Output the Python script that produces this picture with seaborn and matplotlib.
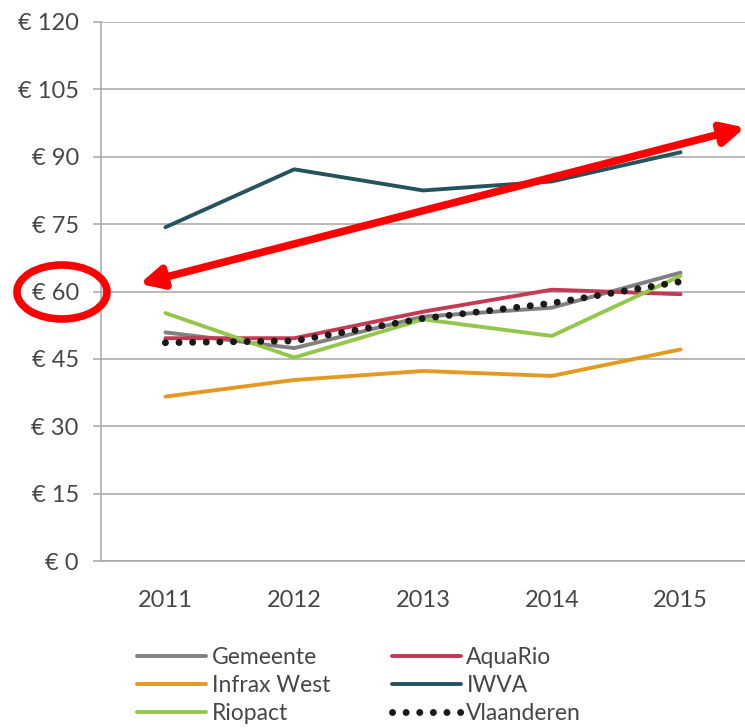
import matplotlib
matplotlib.use("Agg")
import matplotlib.pyplot as plt
from matplotlib.patches import Ellipse
import seaborn as sns
import pandas as pd
import numpy as np

# %% data
years = ["2011", "2012", "2013", "2014", "2015"]
gemeente = [50.9, 47.4, 54.4, 56.4, 64.2]
aquario = [49.6, 49.6, 55.5, 60.4, 59.4]
infrax_west = [36.6, 40.3, 42.3, 41.2, 47.1]
iwva = [74.3, 87.2, 82.5, 84.5, 91.0]
riopact = [55.2, 45.3, 53.8, 50.1, 63.5]
vlaanderen = [48.6, 49.0, 54.0, 57.4, 62.2]
y_ticks = [0, 15, 30, 45, 60, 75, 90, 105, 120]

series = {
    "Gemeente": gemeente,
    "AquaRio": aquario,
    "Infrax West": infrax_west,
    "IWVA": iwva,
    "Riopact": riopact,
    "Vlaanderen": vlaanderen,
}
colors = {
    "Gemeente": "#808080",
    "AquaRio": "#C43A55",
    "Infrax West": "#E39A22",
    "IWVA": "#24535E",
    "Riopact": "#93C74B",
    "Vlaanderen": "#1a1a1a",
}

df = pd.DataFrame({"year": years, **series})
df["x"] = range(len(years))
df = pd.melt(df, id_vars=["year", "x"], var_name="serie", value_name="prijs")

# %% plot
sns.set_theme(style="white")
plt.rcParams["font.family"] = ["Lato", "DejaVu Sans"]
text_col = "#474747"

fig = plt.figure(figsize=(7.45, 7.28), dpi=100)
ax = fig.add_axes([101 / 745, 1 - 561 / 728, 1 - 101 / 745, (561 - 22) / 728])

handles = {}
for name in series:
    sub = df[df.serie == name]
    if name == "Vlaanderen":
        sns.lineplot(x="x", y="prijs", data=sub, ax=ax, color=colors[name],
                     lw=5, linestyle=(0, (0.01, 1.95)), dash_capstyle="round",
                     zorder=5)
    else:
        sns.lineplot(x="x", y="prijs", data=sub, ax=ax, color=colors[name],
                     lw=2.8, zorder=3)
    handles[name] = ax.get_lines()[-1]

ax.set_xlim(-0.5, 4.5)
ax.set_ylim(0, 120)
ax.set_xticks(range(len(years)))
ax.set_xticklabels(years)
ax.set_yticks(y_ticks)
ax.yaxis.set_major_formatter(plt.FuncFormatter(lambda v, p: "€ %d" % v))
ax.set_xlabel("")
ax.set_ylabel("")
ax.grid(axis="y", color="#A6A6A6", lw=1.1)
ax.grid(axis="x", visible=False)
for s in ["top", "right"]:
    ax.spines[s].set_visible(False)
for s in ["left", "bottom"]:
    ax.spines[s].set_color("#A6A6A6")
    ax.spines[s].set_linewidth(1.1)
ax.tick_params(axis="y", left=True, length=6, width=1.1, color="#A6A6A6",
               pad=10, labelsize=17, labelcolor=text_col)
ax.tick_params(axis="x", bottom=False, pad=15, labelsize=17, labelcolor=text_col)

# legend, row-wise order in 2 columns
order = ["Gemeente", "Infrax West", "Riopact", "AquaRio", "IWVA", "Vlaanderen"]
leg = fig.legend([handles[n] for n in order], order, ncol=2, frameon=False,
                 loc="upper left", bbox_to_anchor=(128 / 745, 1 - 638 / 728),
                 fontsize=16.5, handlelength=3.0, handletextpad=0.25,
                 columnspacing=2.7, labelspacing=0.3, borderaxespad=0)
for t in leg.get_texts():
    t.set_color(text_col)

# red annotations
ax.annotate("", xy=(-0.2, 61.7), xytext=(4.5, 96.5), xycoords="data",
            arrowprops=dict(arrowstyle="<|-|>,head_length=1.1,head_width=0.55",
                            color="#FF0000", lw=5.5, shrinkA=0, shrinkB=0),
            annotation_clip=False, zorder=10)
fig.patches.append(Ellipse((62 / 745, 1 - 292 / 728), 90 / 745, 54 / 728,
                           transform=fig.transFigure, fill=False,
                           edgecolor="#FF0000", lw=5.5, zorder=10))

fig.savefig("out.png", dpi=100)
